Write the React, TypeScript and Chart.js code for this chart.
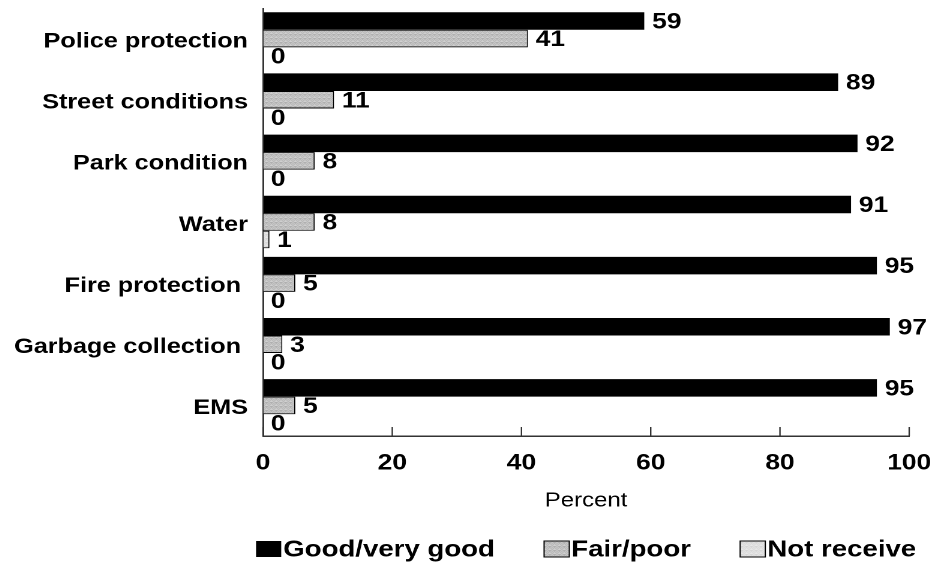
import React, { useEffect, useRef } from "react";
import { Chart, registerables } from "chart.js";

Chart.register(...registerables);

const categories = [
  "Police protection",
  "Street conditions",
  "Park condition",
  "Water",
  "Fire protection ",
  "Garbage collection ",
  "EMS",
];
const seriesLabels = ["Good/very good", "Fair/poor", "Not receive"];
const goodValues = [59, 89, 92, 91, 95, 97, 95];
const fairValues = [41, 11, 8, 8, 5, 3, 5];
const notReceiveValues = [0, 0, 0, 1, 0, 0, 0];
const xTickValues = [0, 20, 40, 60, 80, 100];
const axisTitle = "Percent";

const STRETCH = 1.2;
const FONT = "'Liberation Sans', Arial, Helvetica, sans-serif";
const AXIS_COLOR = "#333333";

function makePattern(ctx: CanvasRenderingContext2D, base: string, dot: string) {
  const c = document.createElement("canvas");
  c.width = 4;
  c.height = 4;
  const g = c.getContext("2d")!;
  g.fillStyle = base;
  g.fillRect(0, 0, 4, 4);
  g.fillStyle = dot;
  const pts = [
    [0, 0],
    [2, 0],
    [1, 1],
    [3, 2],
    [0, 2],
    [2, 2],
    [1, 3],
    [3, 3],
  ];
  pts.forEach(([x, y]) => g.fillRect(x, y, 1, 1));
  return ctx.createPattern(c, "repeat")!;
}

function zeroPad(s: any) {
  s.paddingTop = 0;
  s.paddingBottom = 0;
  s.paddingLeft = 0;
  s.paddingRight = 0;
}

export default function App() {
  const ref = useRef<HTMLCanvasElement>(null);

  useEffect(() => {
    const canvas = ref.current!;
    const ctx = canvas.getContext("2d")!;
    const fairPattern = makePattern(ctx, "#d8d8d8", "#a8a8a8");
    const notPattern = makePattern(ctx, "#ededed", "#d2d2d2");

    const insideTicks = {
      id: "insideTicks",
      afterDraw(chart: any) {
        const xs = chart.scales.x;
        const c = chart.ctx;
        const b = chart.chartArea.bottom;
        c.save();
        c.strokeStyle = AXIS_COLOR;
        c.lineWidth = 1.2;
        xs.ticks.forEach((t: any) => {
          const px = xs.getPixelForValue(t.value);
          c.beginPath();
          c.moveTo(px, b);
          c.lineTo(px, b - 9);
          c.stroke();
        });
        c.restore();
      },
    };

    const valueLabels = {
      id: "valueLabels",
      afterDatasetsDraw(chart: any) {
        const c = chart.ctx;
        c.save();
        c.font = `bold 22px ${FONT}`;
        c.fillStyle = "#000";
        c.textAlign = "left";
        c.textBaseline = "middle";
        chart.data.datasets.forEach((ds: any, di: number) => {
          const meta = chart.getDatasetMeta(di);
          meta.data.forEach((el: any, i: number) => {
            c.fillText(String(ds.data[i]), el.x + 6.5, el.y + 1.5);
          });
        });
        c.restore();
      },
    };

    const customLegend = {
      id: "customLegend",
      afterDraw(chart: any) {
        const c = chart.ctx;
        const ca = chart.chartArea;
        c.save();
        c.font = `bold 23px ${FONT}`;
        c.textBaseline = "middle";
        c.textAlign = "left";
        const boxW = 21;
        const boxH = 16;
        const gap = 1.7;
        const spacing = 41;
        const dss = chart.data.datasets;
        const widths = dss.map((d: any) => c.measureText(d.label).width);
        const total =
          widths.reduce((a: number, w: number) => a + boxW + gap + w, 0) +
          spacing * (dss.length - 1);
        let x = (ca.left + ca.right) / 2 - total / 2;
        const y = chart.height - 17;
        dss.forEach((d: any, i: number) => {
          c.fillStyle = d.backgroundColor;
          c.fillRect(x, y - boxH / 2, boxW, boxH);
          if (d.borderWidth) {
            c.strokeStyle = "#000";
            c.lineWidth = 1;
            c.strokeRect(x, y - boxH / 2, boxW, boxH);
          }
          c.fillStyle = "#000";
          c.fillText(d.label, x + boxW + gap, y + 1);
          x += boxW + gap + widths[i] + spacing;
        });
        c.restore();
      },
    };

    const chart = new Chart(canvas, {
      type: "bar",
      data: {
        labels: categories,
        datasets: [
          {
            label: seriesLabels[0],
            data: goodValues,
            backgroundColor: "#000000",
            borderWidth: 0,
            categoryPercentage: 0.86,
            barPercentage: 1.0,
          },
          {
            label: seriesLabels[1],
            data: fairValues,
            backgroundColor: fairPattern as any,
            borderColor: "#000000",
            borderWidth: 1,
            categoryPercentage: 0.86,
            barPercentage: 1.0,
          },
          {
            label: seriesLabels[2],
            data: notReceiveValues,
            backgroundColor: notPattern as any,
            borderColor: "#000000",
            borderWidth: 1,
            categoryPercentage: 0.86,
            barPercentage: 1.0,
          },
        ],
      },
      options: {
        indexAxis: "y",
        animation: false,
        responsive: true,
        maintainAspectRatio: false,
        devicePixelRatio: 2,
        layout: { padding: { top: 0, right: 26, bottom: 49, left: 0 } },
        plugins: {
          legend: { display: false },
          tooltip: { enabled: false },
        },
        scales: {
          x: {
            min: 0,
            max: 100,
            afterBuildTicks: (s: any) => {
              s.ticks = xTickValues.map((v) => ({ value: v }));
            },
            ticks: {
              color: "#000",
              font: { family: FONT, size: 22, weight: "bold" },
              padding: 14,
              maxRotation: 0,
              autoSkip: false,
            },
            grid: { display: true, drawOnChartArea: false, drawTicks: false },
            border: { display: true, color: AXIS_COLOR, width: 1.5 },
            title: {
              display: true,
              text: axisTitle,
              color: "#000",
              font: { family: FONT, size: 20 },
              padding: { top: 0, bottom: 4 },
            },
            afterFit: (s: any) => {
              s.height = 81;
              zeroPad(s);
            },
          },
          y: {
            ticks: {
              color: "#000",
              font: { family: FONT, size: 21, weight: "bold" },
              padding: 12.5,
              labelOffset: 3,
            },
            grid: { display: true, drawOnChartArea: false, drawTicks: false },
            border: { display: true, color: AXIS_COLOR, width: 1.5 },
            afterFit: (s: any) => {
              s.width = 212.5;
              zeroPad(s);
            },
          },
        },
      },
      plugins: [valueLabels, insideTicks, customLegend],
    });
    return () => chart.destroy();
  }, []);

  return (
    <div
      style={{
        width: 777,
        height: 558,
        transform: `scaleX(${STRETCH})`,
        transformOrigin: "0 0",
        position: "relative",
      }}
    >
      <canvas ref={ref} />
    </div>
  );
}
